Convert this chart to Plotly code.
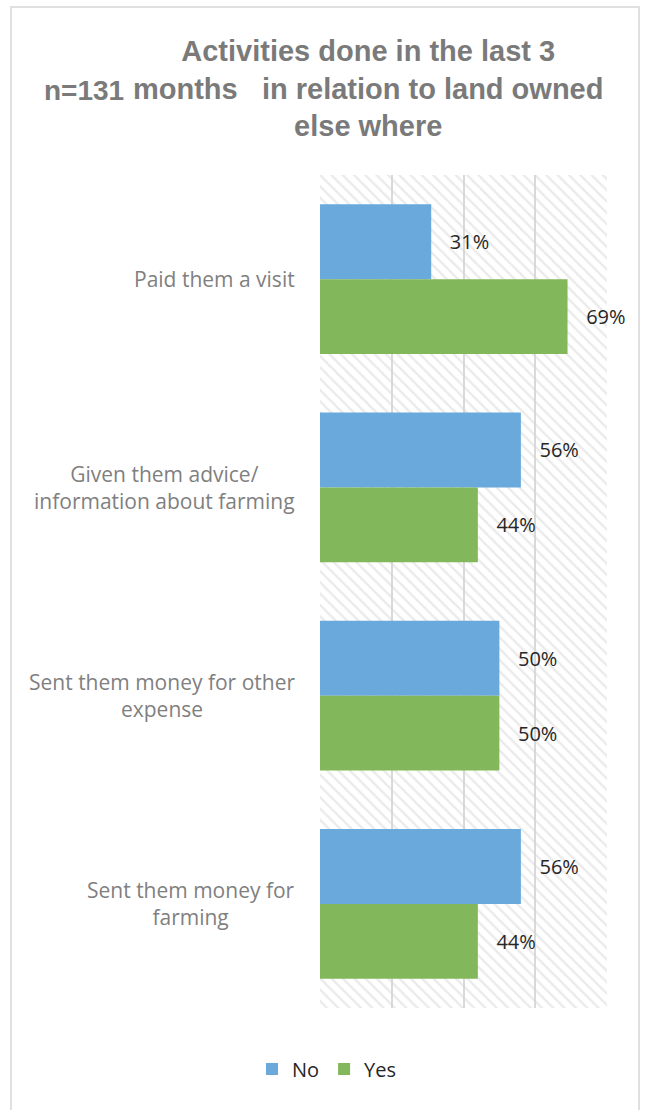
import plotly.graph_objects as go

# Survey responses (percent of respondents)
categories = [
    "Paid them a visit",
    "Given them advice/<br>information about farming",
    "Sent them money for other<br>expense",
    "Sent them money for<br>farming",
]
no_values = [31, 56, 50, 56]
yes_values = [69, 44, 50, 44]
series_names = ["No", "Yes"]
x_max = 80
x_step = 20

W, H = 645, 1110
L, R, T, B = 320, 38, 175, 102
PW, PH = W - L - R, H - T - B


def px_x(px):
    return (px - L) / PW


def px_y(py):
    return (H - B - py) / PH


BLUE = "#6aa9dc"
GREEN = "#82b75b"
GRID = "#d9d9d9"
TITLE_GRAY = "#7a7a7a"
LABEL_GRAY = "#7f7f7f"
DARK = "#262626"
BODY_FONT = "Open Sans"
TITLE_FONT = "Liberation Sans"

fig = go.Figure()

# hatched plot-area background, on its own numeric axis underneath the bars
fig.add_trace(go.Bar(
    x=[x_max], y=[0.5], width=[1], orientation="h",
    marker=dict(color="rgba(0,0,0,0)", line=dict(width=0),
                pattern=dict(shape="\\", fgcolor="#d6d6d6",
                             bgcolor="rgba(0,0,0,0)", size=8, solidity=0.3)),
    showlegend=False, hoverinfo="skip", yaxis="y",
))

gap = "\u00a0\u00a0\u00a0"
for name, vals, color in [(series_names[0], no_values, BLUE),
                          (series_names[1], yes_values, GREEN)]:
    fig.add_trace(go.Bar(
        name=name, x=vals, y=categories, orientation="h", yaxis="y2",
        marker=dict(color=color, line=dict(width=0)),
        text=vals, texttemplate=gap + "%{x}%", textposition="outside",
        textfont=dict(family=BODY_FONT, size=20, color=DARK),
        cliponaxis=False, constraintext="none",
    ))

annotations = []
for cat in categories:
    annotations.append(dict(
        text=cat, xref="paper", yref="y2", x=px_x(297), y=cat,
        xanchor="right", yanchor="middle", align="center", showarrow=False,
        font=dict(family=BODY_FONT, size=21, color=LABEL_GRAY),
    ))

annotations.append(dict(
    text="Activities done in the last 3<br>"
         "months\u00a0\u00a0\u00a0in relation to land owned<br>else where",
    xref="paper", yref="paper", x=px_x(368), y=px_y(88),
    xanchor="center", yanchor="middle", align="center", showarrow=False,
    font=dict(family=TITLE_FONT, size=29, color=TITLE_GRAY, weight="bold"),
))
annotations.append(dict(
    text="n=131", xref="paper", yref="paper", x=px_x(42), y=px_y(90),
    xanchor="left", yanchor="middle", showarrow=False,
    font=dict(family=TITLE_FONT, size=28, color=TITLE_GRAY, weight="bold"),
))

fig.update_layout(
    width=W, height=H,
    margin=dict(l=L, r=R, t=T, b=B, pad=0),
    paper_bgcolor="white", plot_bgcolor="white",
    barmode="group", bargap=0.28, bargroupgap=0,
    xaxis=dict(range=[0, x_max], dtick=x_step, tick0=0, showticklabels=False,
               showgrid=True, gridcolor=GRID, gridwidth=2, zeroline=False,
               showline=False, ticks="", fixedrange=True),
    yaxis=dict(range=[0, 1], visible=False, showgrid=False, fixedrange=True),
    yaxis2=dict(overlaying="y", side="left", type="category",
                autorange="reversed", showticklabels=False, showgrid=False,
                zeroline=False, showline=False, ticks="", fixedrange=True),
    legend=dict(orientation="h", x=px_x(327), y=px_y(1069),
                xanchor="center", yanchor="middle",
                font=dict(family=BODY_FONT, size=20, color=DARK),
                itemwidth=30, bgcolor="rgba(0,0,0,0)"),
    annotations=annotations,
    shapes=[dict(type="rect", xref="paper", yref="paper",
                 x0=px_x(11), x1=px_x(639), y0=px_y(1130), y1=px_y(7),
                 line=dict(color="#e0e0e0", width=2), layer="below")],
    showlegend=True,
)

fig.write_html("out.html")
